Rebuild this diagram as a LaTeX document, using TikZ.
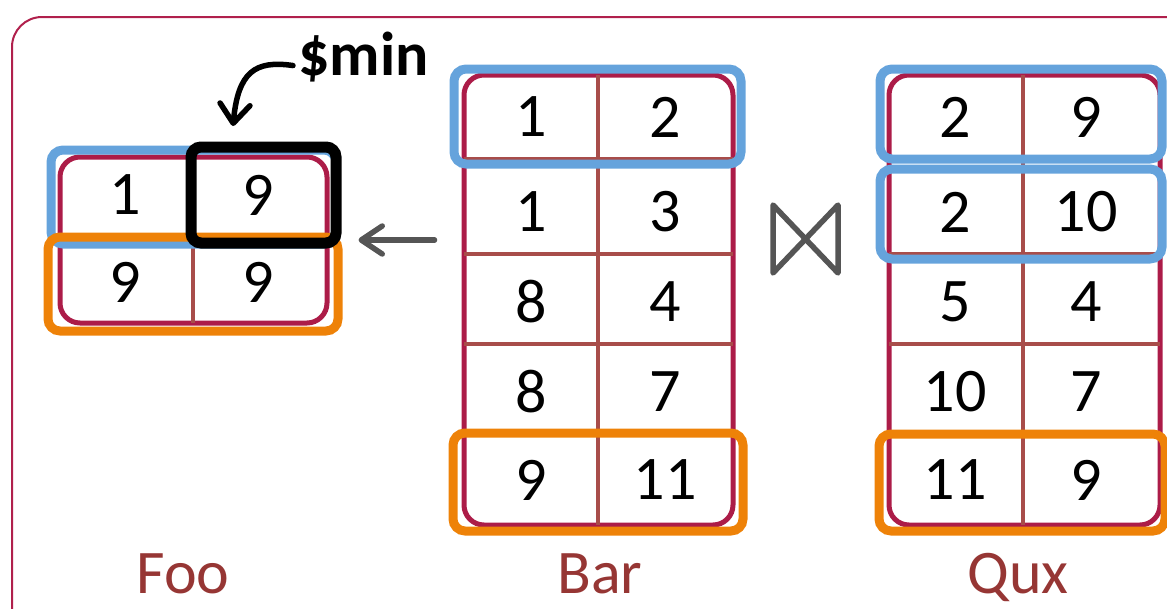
\documentclass[tikz,border=0pt]{standalone}
\usepackage{fontspec}
\setmainfont{Carlito}
\usetikzlibrary{arrows.meta}
\definecolor{tblred}{HTML}{AC1C48}
\definecolor{gridred}{HTML}{A84D4A}
\definecolor{lblred}{HTML}{963634}
\definecolor{hlblue}{HTML}{65A3DC}
\definecolor{hlorange}{HTML}{EE8208}
\definecolor{arrgray}{HTML}{555555}
\definecolor{framered}{HTML}{B0204C}
\begin{document}
\begin{tikzpicture}[x=1pt, y=-1pt,
    cell/.style={font=\fontsize{62}{62}\selectfont, inner sep=0pt},
    tbl/.style={draw=tblred, line width=5pt, rounded corners=20pt, inner sep=0pt},
    grid/.style={draw=gridred, line width=4.5pt},
    hl/.style={line width=9pt, rounded corners=12pt, inner sep=0pt},
    tblname/.style={font=\fontsize{62}{62}\selectfont, text=lblred, anchor=base}]
    \useasboundingbox (0,0) rectangle (1167,608);
    \clip (0,0) rectangle (1167,608);
    % outer frame, runs off the right and bottom edges
    \draw[framered, line width=2pt, rounded corners=30pt] (12,17) rectangle (1230,680);

    % Foo: the result, two rows
    \begin{scope}
        \node[tbl, minimum width=267pt, minimum height=166pt] (foo) at (193.5,240) {};
        \draw[grid] (193,157) -- (193,323);
        \node[cell] (foo-1-1) at (125,195) {1};
        \node[cell] (foo-1-2) at (258,195) {9};
        \node[cell] (foo-2-1) at (125,282) {9};
        \node[cell] (foo-2-2) at (258,282) {9};
        \node[hl, draw=hlblue, minimum width=285pt, minimum height=94pt] (foo-blue) at (193.5,197) {};
        \node[hl, draw=hlorange, minimum width=290pt, minimum height=94pt] (foo-orange) at (193,284) {};
        \node[draw=black, line width=11pt, rounded corners=10pt, inner sep=0pt,
            minimum width=145pt, minimum height=96pt] (minbox) at (263.5,195) {};
        \node[tblname] (fooname) at (183,593) {Foo};
    \end{scope}

    % $min points at the picked cell
    \node[font=\fontsize{62}{62}\selectfont\bfseries, anchor=base west, inner sep=0pt] (minlbl) at (298,75) {\$min};
    \coordinate (mintip) at (233,126);
    \draw[line width=5.5pt, line cap=round, -{Straight Barb[length=19pt, width=30pt, round]}]
        ([xshift=-5pt, yshift=-9pt]minlbl.west) .. controls (255,60) and (238,72) .. (mintip);

    % Bar: left input
    \begin{scope}
        \node[tbl, minimum width=269pt, minimum height=450pt] (bar) at (598.5,300) {};
        \draw[grid] (598,75) -- (598,525);
        \foreach \y in {159,254,344,434}
            \draw[grid] (464,\y) -- (733,\y);
        \foreach \a/\b/\y [count=\i] in {1/2/117, 1/3/212, 8/4/302, 8/7/392, 9/11/480} {
            \node[cell] (bar-\i-1) at (531,\y) {\a};
            \node[cell] (bar-\i-2) at (665,\y) {\b};
        }
        \node[hl, draw=hlblue, minimum width=287pt, minimum height=95pt] (bar-blue) at (597.5,116.5) {};
        \node[hl, draw=hlorange, minimum width=290pt, minimum height=98pt] (bar-orange) at (598,482) {};
        \node[tblname] (barname) at (600,593) {Bar};
    \end{scope}

    % Qux: right input
    \begin{scope}
        \node[tbl, minimum width=271pt, minimum height=450pt] (qux) at (1024.5,300) {};
        \draw[grid] (1023,75) -- (1023,525);
        \foreach \y in {159,254,344,434}
            \draw[grid] (889,\y) -- (1160,\y);
        \foreach \a/\b/\y [count=\i] in {2/9/117, 2/10/212, 5/4/302, 10/7/392, 11/9/480} {
            \node[cell] (qux-\i-1) at (955,\y) {\a};
            \node[cell] (qux-\i-2) at (1086,\y) {\b};
        }
        \node[hl, draw=hlblue, minimum width=282pt, minimum height=90pt] (qux-blue1) at (1021,114) {};
        \node[hl, draw=hlblue, minimum width=282pt, minimum height=90pt] (qux-blue2) at (1021,214) {};
        \node[hl, draw=hlorange, minimum width=286pt, minimum height=97pt] (qux-orange) at (1022,482.5) {};
        \node[tblname] (quxname) at (1018,593) {Qux};
    \end{scope}

    % join symbol and result arrow
    \draw[arrgray, line width=5.5pt, line join=round, line cap=round]
        (773,205) -- (838,273) -- (838,205) -- (773,273) -- cycle;
    \draw[arrgray, line width=5.5pt, line cap=round, shorten <=27pt, shorten >=29pt,
        -{Straight Barb[length=21pt, width=28pt, round]}] (bar.west |- foo.center) -- (foo.east);
\end{tikzpicture}
\end{document}
